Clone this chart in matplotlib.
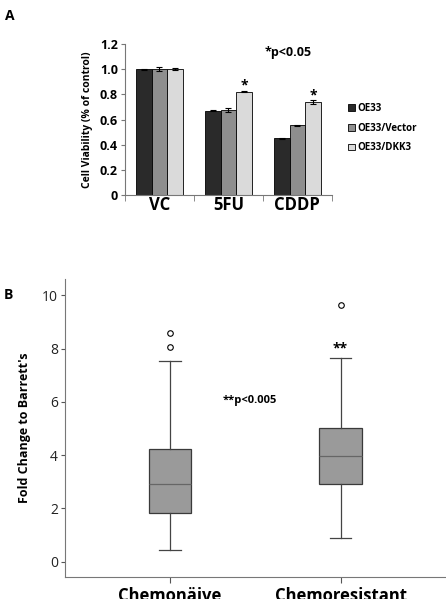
import numpy as np
import matplotlib
matplotlib.use("Agg")
import matplotlib.pyplot as plt
from matplotlib.patches import Patch

plt.rcParams["font.family"] = ["Open Sans", "DejaVu Sans"]

# Panel A data
groups = ["VC", "5FU", "CDDP"]
series = ["OE33", "OE33/Vector", "OE33/DKK3"]
vals_oe33 = [1.0, 0.67, 0.45]
vals_vector = [1.0, 0.675, 0.555]
vals_dkk3 = [1.0, 0.82, 0.74]
err_oe33 = [0.005, 0.003, 0.003]
err_vector = [0.015, 0.015, 0.004]
err_dkk3 = [0.008, 0.003, 0.015]
bar_colors = ["#2a2a2a", "#8e8e8e", "#dadada"]

# Panel B data (box stats)
box_labels = ["Chemonäive", "Chemoresistant"]
whislo = [0.44, 0.88]
q1 = [1.81, 2.91]
med = [2.90, 3.96]
q3 = [4.21, 5.03]
whishi = [7.53, 7.66]
fliers = [[8.06, 8.59], [9.63]]

fig = plt.figure(figsize=(4.46, 5.99), dpi=100)

# ---- Panel A ----
axA = fig.add_axes([0.280, 0.6745, 0.464, 0.252])
x = np.arange(len(groups))
w = 0.227
for i, (v, e) in enumerate(zip([vals_oe33, vals_vector, vals_dkk3], [err_oe33, err_vector, err_dkk3])):
    axA.bar(x + (i - 1) * w, v, w, yerr=e, color=bar_colors[i], edgecolor="black",
            linewidth=0.6, capsize=2, error_kw=dict(elinewidth=0.8, capthick=0.8))
axA.set_xlim(-0.5, 2.5)
axA.set_ylim(0, 1.2)
axA.set_yticks([0, 0.2, 0.4, 0.6, 0.8, 1.0, 1.2])
axA.set_yticklabels(["0", "0.2", "0.4", "0.6", "0.8", "1.0", "1.2"], fontsize=9, fontweight="bold")
axA.set_xticks(x)
axA.set_xticklabels(groups, fontsize=12, fontweight="bold")
axA.tick_params(axis="x", length=0, pad=1)
axA.set_xticks([-0.5, 0.5, 1.5, 2.5], minor=True)
axA.tick_params(axis="x", which="minor", length=4, color="#777777")
axA.tick_params(axis="y", length=3, color="#777777", pad=2)
for s in ["top", "right"]:
    axA.spines[s].set_visible(False)
for s in ["left", "bottom"]:
    axA.spines[s].set_color("#777777")
axA.set_ylabel("Cell Viability (% of control)", fontsize=7.5, fontweight="bold", labelpad=5)
axA.text(1.86, 1.13, "*p<0.05", fontsize=9, fontweight="bold", ha="center", va="center")
axA.text(1 + w, 0.87, "*", fontsize=10, fontweight="bold", ha="center", va="center")
axA.text(2 + w, 0.79, "*", fontsize=10, fontweight="bold", ha="center", va="center")
handles = [Patch(facecolor=c, edgecolor="black", linewidth=0.6) for c in bar_colors]
fig.legend(handles, series, loc="center left", bbox_to_anchor=(0.76, 0.786), frameon=False,
           prop=dict(size=7, weight="bold"), handlelength=0.7, handleheight=0.7,
           handletextpad=0.3, labelspacing=0.9)
fig.text(0.012, 0.985, "A", fontsize=10, fontweight="bold", va="top")

# ---- Panel B ----
axB = fig.add_axes([0.1457, 0.0367, 0.854, 0.497])
stats = []
for i in range(2):
    stats.append(dict(label=box_labels[i], whislo=whislo[i], q1=q1[i], med=med[i],
                      q3=q3[i], whishi=whishi[i], fliers=fliers[i]))
axB.bxp(stats, positions=[1, 2], widths=0.25, patch_artist=True,
        boxprops=dict(facecolor="#9a9a9a", edgecolor="#3a3a3a", linewidth=0.9),
        medianprops=dict(color="#666666", linewidth=0.9),
        whiskerprops=dict(color="#444444", linewidth=0.9),
        capprops=dict(color="#444444", linewidth=0.9),
        flierprops=dict(marker="o", markersize=4, markerfacecolor="white",
                        markeredgecolor="black", markeredgewidth=0.8))
axB.set_xlim(0.385, 2.617)
axB.set_ylim(-0.58, 10.6)
axB.set_yticks([0, 2, 4, 6, 8, 10])
axB.set_yticklabels(["0", "2", "4", "6", "8", "10"], fontsize=10, color="#222222")
axB.set_xticklabels(box_labels, fontsize=12, fontweight="bold")
axB.tick_params(axis="x", length=4, color="#555555", pad=3)
axB.tick_params(axis="y", length=3, color="#555555", pad=2)
for s in ["top", "right"]:
    axB.spines[s].set_visible(False)
for s in ["left", "bottom"]:
    axB.spines[s].set_color("#777777")
axB.set_ylabel("Fold Change to Barrett's", fontsize=9, fontweight="bold", labelpad=8)
axB.text(1.47, 6.04, "**p<0.005", fontsize=8, fontweight="bold", ha="center", va="center")
axB.text(2, 8.0, "**", fontsize=10, fontweight="bold", ha="center", va="center")
fig.text(0.008, 0.52, "B", fontsize=10, fontweight="bold", va="top")

fig.savefig("out.png", dpi=100)
